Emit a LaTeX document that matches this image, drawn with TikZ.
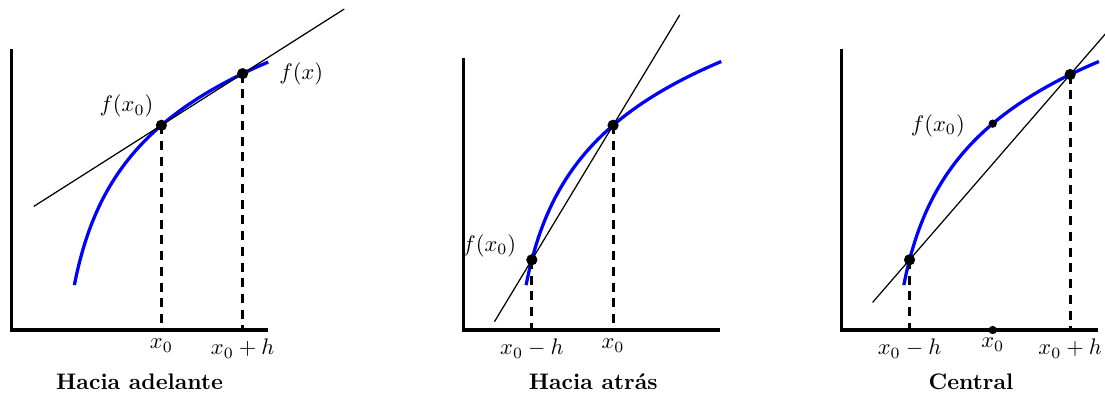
\documentclass[tikz,border=0pt]{standalone}
\usepackage{amsmath}
\usetikzlibrary{positioning,calc}

\tikzset{
	declare function={fc(\x)=2.507+1.406*ln(\x-0.703);},
	eje/.style={line width=1.4pt},
	curva/.style={blue,line width=1.45pt},
	secante/.style={line width=0.55pt},
	guia/.style={line width=1.35pt,dash pattern=on 4pt off 3pt},
	punto/.style={circle,fill,inner sep=0pt,minimum size=5pt},
	puntito/.style={circle,fill,inner sep=0pt,minimum size=3.7pt},
	titulo/.style={font=\bfseries}
}

\begin{document}
\begin{tikzpicture}
	\useasboundingbox (0,0) rectangle (17.27,6.158);
	\begin{scope}[shift={(0.182,1.0)}]
		\coordinate (O1) at (0,0);
		\coordinate (A1) at (2.34,{fc(2.34)});
		\coordinate (B1) at (3.61,{fc(3.61)});
		\draw[eje] (0,4.39)--(O1)--++(4.0,0);
		\draw[curva] plot[domain=0.98:4.01,samples=80,smooth] (\x,{fc(\x)});
		\draw[secante] ($(A1)!-1.57!(B1)$)--($(A1)!2.25!(B1)$);
		\draw[guia] (A1)--(A1 |- O1) node[below] (x1) {$x_0$};
		\draw[guia] (B1)--(B1 |- O1) node[below] (xh1) {$x_0+h$};
		\node[punto] (p1) at (A1) {};
		\node[punto] (q1) at (B1) {};
		\node[above left] (f1) at (A1) {$f(x_0)$};
		\node[right=0.45cm of B1] (fx1) {$f(x)$};
		\node[titulo] (t1) at (2.0,-0.81) {Hacia adelante};
	\end{scope}
	\begin{scope}[shift={(7.242,1.0)}]
		\coordinate (O2) at (0,0);
		\coordinate (A2) at (1.07,{fc(1.07)});
		\coordinate (B2) at (2.34,{fc(2.34)});
		\draw[eje] (0,4.25)--(O2)--++(4.01,0);
		\draw[curva] plot[domain=0.98:4.03,samples=80,smooth] (\x,{fc(\x)});
		\draw[secante] ($(A2)!-0.46!(B2)$)--($(A2)!1.82!(B2)$);
		\draw[guia] (A2)--(A2 |- O2) node[below] (xm2) {$x_0-h$};
		\draw[guia] (B2)--(B2 |- O2) node[below] (x2) {$x_0$};
		\node[punto] (p2) at (A2) {};
		\node[punto] (q2) at (B2) {};
		\node[above left=-0.08cm and 0.12cm of A2] (f2) {$f(x_0)$};
		\node[titulo] (t2) at (2.03,-0.81) {Hacia atr\'as};
	\end{scope}
	\begin{scope}[shift={(13.145,1.0)}]
		\coordinate (O3) at (0,0);
		\coordinate (A3) at (1.07,{fc(1.07)});
		\coordinate (C3) at (2.37,{fc(2.37)});
		\coordinate (B3) at (3.58,{fc(3.58)});
		\draw[eje] (0,4.39)--(O3)--++(4.01,0);
		\draw[curva] plot[domain=0.98:4.03,samples=80,smooth] (\x,{fc(\x)});
		\draw[secante] ($(A3)!-0.23!(B3)$)--($(A3)!1.4!(B3)$);
		\draw[guia] (A3)--(A3 |- O3) node[below] (xm3) {$x_0-h$};
		\draw[guia] (B3)--(B3 |- O3) node[below] (xh3) {$x_0+h$};
		\node[punto] (p3) at (A3) {};
		\node[punto] (q3) at (B3) {};
		\node[puntito] (c3) at (C3) {};
		\node[puntito] (d3) at (C3 |- O3) {};
		\node[below] (x3) at (d3) {$x_0$};
		\node[left=0.24cm of c3,yshift=-1pt] (f3) {$f(x_0)$};
		\node[titulo] (t3) at (2.03,-0.81) {Central};
	\end{scope}
\end{tikzpicture}
\end{document}
